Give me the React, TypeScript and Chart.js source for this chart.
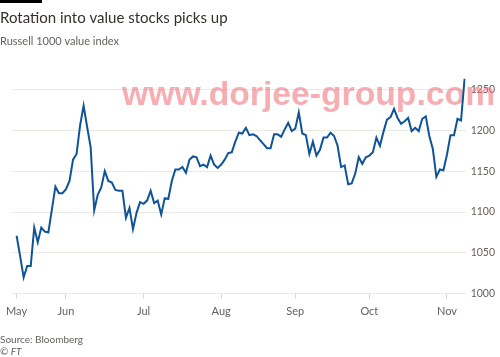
import React, { useEffect, useRef } from "react";
import { Chart, registerables } from "chart.js";

Chart.register(...registerables);

// Trading days (2020) shown on the chart, per month
const mayDays = [11, 12, 13, 14, 15, 18, 19, 20, 21, 22, 26, 27, 28, 29];
const junDays = [1, 2, 3, 4, 5, 8, 9, 10, 11, 12, 15, 16, 17, 18, 19, 22, 23, 24, 25, 26, 29, 30];
const julDays = [1, 2, 6, 7, 8, 9, 10, 13, 14, 15, 16, 17, 20, 21, 22, 23, 24, 27, 28, 29, 30, 31];
const augDays = [3, 4, 5, 6, 7, 10, 11, 12, 13, 14, 17, 18, 19, 20, 21, 24, 25, 26, 27, 28, 31];
const sepDays = [1, 2, 3, 4, 8, 9, 10, 11, 14, 15, 16, 17, 18, 21, 22, 23, 24, 25, 28, 29, 30];
const octDays = [1, 2, 5, 6, 7, 8, 9, 12, 13, 14, 15, 16, 19, 20, 21, 22, 23, 26, 27, 28, 29, 30];
const novDays = [2, 3, 4, 5, 6, 9];

const monthLabels = ["May", "Jun", "Jul", "Aug", "Sep", "Oct", "Nov"];
const monthDays = [mayDays, junDays, julDays, augDays, sepDays, octDays, novDays];

// Russell 1000 value index, daily close
const values = [
  1071, 1046, 1020, 1034, 1034, 1081, 1063, 1081, 1076, 1075, 1103, 1131, 1123, 1123,
  1128, 1138, 1164, 1171, 1206, 1230, 1204, 1179, 1102, 1121, 1130, 1150, 1138, 1136, 1127, 1126, 1126, 1093, 1105, 1079, 1099, 1112,
  1110, 1114, 1126, 1111, 1114, 1097, 1117, 1116, 1138, 1152, 1152, 1155, 1148, 1164, 1168, 1167, 1156, 1158, 1155, 1169, 1158, 1154,
  1158, 1164, 1172, 1173, 1186, 1197, 1196, 1203, 1194, 1195, 1193, 1188, 1183, 1178, 1178, 1195, 1195, 1192, 1201, 1209, 1199,
  1202, 1222, 1196, 1194, 1171, 1186, 1169, 1176, 1191, 1191, 1197, 1193, 1181, 1155, 1157, 1134, 1135, 1147, 1167, 1159, 1167,
  1169, 1173, 1191, 1181, 1198, 1213, 1216, 1226, 1215, 1208, 1211, 1215, 1199, 1203, 1199, 1214, 1217, 1193, 1177, 1143, 1152, 1151,
  1170, 1194, 1194, 1214, 1212, 1263,
];

const yTicks = [1000, 1050, 1100, 1150, 1200, 1250];

const title = "Rotation into value stocks picks up";
const subtitle = "Russell 1000 value index";
const source = "Source: Bloomberg";
const credit = "© FT";
const watermark = "www.dorjee-group.com";

const FONT = "Lato, 'Open Sans', sans-serif";

export default function App() {
  const ref = useRef<HTMLCanvasElement | null>(null);

  useEffect(() => {
    const canvas = ref.current;
    if (!canvas) return;

    const dates: string[] = [];
    const monthStart: number[] = [];
    monthDays.forEach((days, m) => {
      monthStart.push(dates.length);
      days.forEach((d) => dates.push(`${monthLabels[m]} ${d}`));
    });
    const points = values.map((v, i) => ({ x: i, y: v }));

    const textPlugin = {
      id: "ftText",
      beforeDraw(chart: any) {
        const ctx = chart.ctx;
        ctx.save();
        ctx.fillStyle = "#ffffff";
        ctx.fillRect(0, 0, chart.width, chart.height);
        ctx.restore();
      },
      beforeDatasetsDraw(chart: any) {
        const ctx = chart.ctx;
        ctx.save();
        ctx.font = "bold 33.7px 'Liberation Sans', Arial, sans-serif";
        ctx.fillStyle = "rgba(240,120,128,0.6)";
        ctx.textBaseline = "alphabetic";
        ctx.textAlign = "left";
        ctx.fillText(watermark, 122, 105, 375);
        ctx.restore();
      },
      afterDraw(chart: any) {
        const ctx = chart.ctx;
        ctx.save();
        ctx.fillStyle = "#000000";
        ctx.fillRect(0, 0, 42, 3);
        ctx.textBaseline = "alphabetic";
        ctx.textAlign = "left";
        ctx.fillStyle = "#33302e";
        ctx.font = `15px ${FONT}`;
        ctx.fillText(title, 0, 23);
        ctx.fillStyle = "#66605c";
        ctx.font = `11px ${FONT}`;
        ctx.fillText(subtitle, 0, 45);
        ctx.font = `10px ${FONT}`;
        ctx.fillText(source, 0, 343);
        ctx.font = `italic 10px ${FONT}`;
        ctx.fillText(credit, 0, 355);
        ctx.restore();
      },
    };

    const chart = new Chart(canvas, {
      type: "line",
      data: {
        datasets: [
          {
            data: points,
            borderColor: "#0f5499",
            borderWidth: 2,
            pointRadius: 0,
            tension: 0,
            fill: false,
          },
        ],
      },
      options: {
        animation: false,
        responsive: false,
        devicePixelRatio: 1,
        layout: { padding: { left: 8, top: 73, right: 0, bottom: 33 } },
        plugins: { legend: { display: false }, tooltip: { enabled: false } },
        scales: {
          x: {
            type: "linear",
            min: -1.1,
            max: 127.3,
            afterBuildTicks: (axis: any) => {
              axis.ticks = monthStart.map((v) => ({ value: v }));
            },
            ticks: {
              autoSkip: false,
              maxRotation: 0,
              padding: 6,
              color: "#66605c",
              font: { family: FONT, size: 11 },
              callback: (v: any) => {
                const k = monthStart.indexOf(Number(v));
                return k >= 0 ? monthLabels[k] : null;
              },
            },
            grid: {
              drawOnChartArea: false,
              drawTicks: true,
              tickLength: 5,
              color: "#dcd8d5",
            },
            border: { display: false },
          },
          y: {
            position: "right",
            min: 1000,
            max: 1270,
            afterBuildTicks: (axis: any) => {
              axis.ticks = yTicks.map((v) => ({ value: v }));
            },
            ticks: {
              padding: 5,
              color: "#66605c",
              font: { family: FONT, size: 10.5 },
              callback: (v: any) => String(v),
            },
            grid: { color: "#ebe8e6", drawTicks: false },
            border: { display: false },
          },
        },
      },
      plugins: [textPlugin],
    });

    return () => chart.destroy();
  }, []);

  return (
    <div style={{ position: "fixed", left: 0, top: 0, width: 500, height: 357, background: "#fff" }}>
      <canvas ref={ref} width={500} height={357} style={{ display: "block", width: 500, height: 357 }} />
    </div>
  );
}
